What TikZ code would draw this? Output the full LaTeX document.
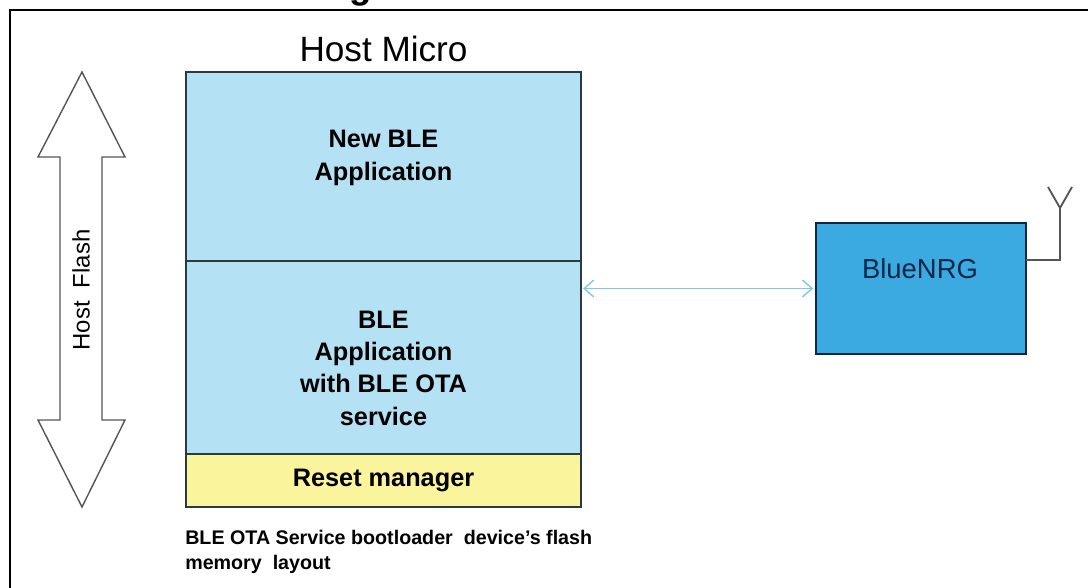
\documentclass[tikz,border=0pt]{standalone}
\usepackage{fontspec}
\setmainfont{Liberation Sans}
\usetikzlibrary{arrows.meta, positioning, calc}
\definecolor{otaSky}{HTML}{B4E1F4}
\definecolor{otaLemon}{HTML}{FAF59C}
\definecolor{otaNrg}{HTML}{3BAAE0}
\definecolor{otaInk}{HTML}{2B3A42}
\definecolor{otaNavy}{HTML}{0B2646}
\definecolor{otaLink}{HTML}{7CC9E6}
\definecolor{otaGrey}{HTML}{555555}

\begin{document}
\begin{tikzpicture}[
  >={Straight Barb[length=2.4mm, width=4.2mm]},
  blk/.style={draw=otaInk, line width=1.3pt, minimum width=9.875cm,
              inner sep=0pt, outer sep=0pt},
  btxt/.style={font=\fontsize{18}{23}\selectfont\bfseries, align=center,
               text=black, inner sep=0pt},
  ttl/.style={font=\fontsize{25}{30}\selectfont, text=black, inner sep=0pt},
  link/.style={draw=otaLink, line width=1pt},
  ant/.style={draw=otaGrey, line width=1.3pt},
]
\useasboundingbox (0,0) rectangle (27.2,14.7);
\clip (0,0) rectangle (27.2,14.7);

% The frame runs off the page to the right and at the bottom; only the
% tail of a title letter shows above it.
\node[font=\fontsize{26}{30}\selectfont\bfseries, inner sep=0pt, anchor=base]
  (cut) at (9.025,14.725) {g};
\draw[draw=black, line width=2pt] (0.25,-0.2) -- (0.25,14.45) -- (27.4,14.45);

% ============================== host micro ===================================
\node[ttl, anchor=base] (host) at (9.5875,13.16) {Host Micro};

\node[blk, fill=otaSky, minimum height=4.725cm] (newapp) at (9.5875,10.5375) {};
\node[blk, fill=otaSky, minimum height=4.825cm, below=0pt of newapp] (otaapp) {};
\node[blk, fill=otaLemon, minimum height=1.325cm, below=0pt of otaapp] (reset) {};

\node[btxt] (newtxt) at (9.5875,10.75) {New BLE\\Application};
\node[btxt] (otatxt) at (9.5875,5.50) {BLE\\Application\\with BLE OTA\\service};
\node[btxt] (resettxt) at (reset.center) {Reset manager};

\node[font=\fontsize{14}{17.8}\selectfont\bfseries, align=left, inner sep=0pt,
      anchor=north west] (caption) at (4.625,1.45)
  {BLE OTA Service bootloader\ \ device's flash\\memory\ \ layout};

% --- the flash span, a hollow two-headed arrow ---
\draw[draw=otaGrey, line width=1pt, fill=white, line join=miter]
  (2.05,12.90) -- (3.125,10.775) -- (2.55,10.775) -- (2.55,4.20)
  -- (3.125,4.20) -- (2.05,2.025) -- (0.95,4.20) -- (1.50,4.20)
  -- (1.50,10.775) -- (0.95,10.775) -- cycle;
\node[font=\fontsize{17}{20}\selectfont, rotate=90, inner sep=0pt]
  (flash) at (2.025,7.45) {Host\ \ Flash};

% ============================== radio ========================================
\node[draw=otaNavy, line width=1.2pt, fill=otaNrg, minimum width=5.25cm,
      minimum height=3.275cm, inner sep=0pt, outer sep=0pt]
  (nrg) at (23.025,7.4875) {};
\node[font=\fontsize{19.5}{23}\selectfont, text=otaNavy, inner sep=0pt]
  (nrgtxt) at (23.0,7.98) {BlueNRG};

\draw[link, <->, shorten <=1.5pt, shorten >=2pt]
  (otaapp.east |- nrg.west) -- (nrg.west);

% Antenna off the top of the right side.
\draw[ant] ($(nrg.east)+(0,0.7125)$) -- ++(0.85,0) -- ++(0,1.3) coordinate (mast);
\draw[ant] ($(mast)+(-0.3,0.525)$) -- (mast) -- ($(mast)+(0.3,0.525)$);
\end{tikzpicture}
\end{document}
